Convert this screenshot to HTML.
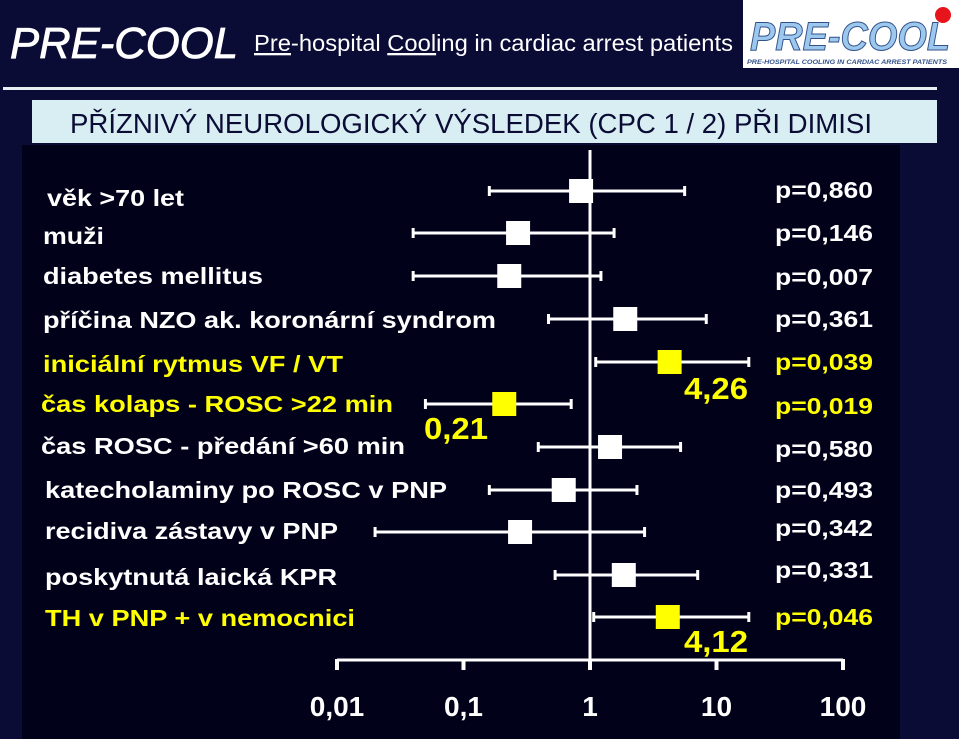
<!DOCTYPE html>
<html><head><meta charset="utf-8"><style>
html,body{margin:0;padding:0;background:#0b0c36;}
svg{display:block;font-family:"Liberation Sans",sans-serif;}
</style></head><body>
<svg width="959" height="739" viewBox="0 0 959 739">
<rect x="0" y="0" width="959" height="739" fill="#0b0c36"/>
<rect x="22" y="145" width="878" height="594" fill="#01011a"/>
<text x="10" y="58" font-size="44" font-style="italic" fill="#fff" stroke="#fff" stroke-width="0.8" textLength="228" lengthAdjust="spacingAndGlyphs">PRE-COOL</text>
<text x="254" y="51" font-size="23" fill="#fff" textLength="479" lengthAdjust="spacingAndGlyphs"><tspan text-decoration="underline">Pre</tspan>-hospital <tspan text-decoration="underline">Cool</tspan>ing in cardiac arrest patients</text>
<g>
<rect x="743" y="0" width="216" height="68" fill="#fff"/>
<text x="750" y="50" font-size="40" font-weight="bold" font-style="italic" fill="#9cc8ee" stroke="#33528a" stroke-width="1" textLength="200" lengthAdjust="spacingAndGlyphs">PRE-COOL</text>
<circle cx="943" cy="15" r="8" fill="#e8141b"/>
<text x="747" y="64" font-size="6" font-weight="bold" font-style="italic" fill="#33528a" textLength="200" lengthAdjust="spacingAndGlyphs">PRE-HOSPITAL COOLING IN CARDIAC ARREST PATIENTS</text>
</g>
<rect x="3" y="87" width="934" height="3" fill="#e8eef2"/>
<rect x="32" y="100" width="905" height="43" fill="#d8eef2"/>
<text x="70" y="133" font-size="28" fill="#0b0c36" textLength="802" lengthAdjust="spacingAndGlyphs">PŘÍZNIVÝ NEUROLOGICKÝ VÝSLEDEK (CPC 1 / 2) PŘI DIMISI</text>
<g id="plot"></g>
</svg>
<script>
const labels=["věk >70 let","muži","diabetes mellitus","příčina NZO ak. koronární syndrom","iniciální rytmus VF / VT","čas kolaps - ROSC >22 min","čas ROSC - předání >60 min","katecholaminy po ROSC v PNP","recidiva zástavy v PNP","poskytnutá laická KPR","TH v PNP + v nemocnici"];
const estimates=[0.85,0.27,0.23,1.9,4.26,0.21,1.44,0.62,0.28,1.85,4.12];
const lower=[0.16,0.04,0.04,0.47,1.11,0.05,0.39,0.16,0.02,0.53,1.07];
const upper=[5.6,1.55,1.22,8.3,18,0.71,5.2,2.35,2.7,7.1,18];
const pvalues=["p=0,860","p=0,146","p=0,007","p=0,361","p=0,039","p=0,019","p=0,580","p=0,493","p=0,342","p=0,331","p=0,046"];
const significant=[false,false,false,false,true,true,false,false,false,false,true];
const tickValues=[0.01,0.1,1,10,100];
const tickLabels=["0,01","0,1","1","10","100"];

const NS="http://www.w3.org/2000/svg";
const g=document.getElementById('plot');
const rowY=[191,233,276,319,362,404,447,490,532,575,617];
const labelY=[198,236,276,320,364,404,446,490,531,577,618];
const labelX=[47,43,43,43,43,41,41,45,45,45,45];
const labelW=[137,61,220,453,300,352,364,402,293,292,310];
const pY=[190,233,277,319,362,406,449,490,528,570,617];
function xs(v){return 590+126.5*Math.log10(v);}
function mk(tag,attrs,parent){const e=document.createElementNS(NS,tag);for(const k in attrs)e.setAttribute(k,attrs[k]);(parent||g).appendChild(e);return e;}
const ax=mk('line',{x1:xs(0.01),x2:xs(100),y1:660,y2:660,stroke:'#fff','stroke-width':3});


const ref=mk('line',{x1:xs(1),x2:xs(1),y1:150,y2:660,stroke:'#fff','stroke-width':3});


tickValues.forEach((v,i)=>{
  const t=mk('line',{x1:xs(v),x2:xs(v),y1:659,y2:670,stroke:'#fff','stroke-width':4});
  
  
  const l=mk('text',{x:xs(v),y:716,'font-size':28,'font-weight':'bold',fill:'#fff','text-anchor':'middle'});
  l.textContent=tickLabels[i];
  
  
});
labels.forEach((lab,i)=>{
  const col=significant[i]?'#ffff00':'#fff';
  const t=mk('text',{x:labelX[i],y:labelY[i]+8,'font-size':23,'font-weight':'bold',fill:col,textLength:labelW[i],lengthAdjust:'spacingAndGlyphs'});
  t.textContent=lab;
  
  
  const y=rowY[i];
  const ci=mk('line',{x1:xs(lower[i]),x2:xs(upper[i]),y1:y,y2:y,stroke:'#fff','stroke-width':3});
  
  
  [lower[i],upper[i]].forEach(v=>{
    const c=mk('line',{x1:xs(v),x2:xs(v),y1:y-5,y2:y+5,stroke:'#fff','stroke-width':3});
    
    
  });
  const s=mk('rect',{x:xs(estimates[i])-12,y:y-12,width:24,height:24,fill:col});
  
  
  const p=mk('text',{x:775,y:pY[i]+8,'font-size':23,'font-weight':'bold',fill:col,textLength:98,lengthAdjust:'spacingAndGlyphs'});
  p.textContent=pvalues[i];
  
  
});
const annot=[[4,684,399],[5,424,439],[10,684,652]];
annot.forEach(a=>{
  const t=mk('text',{x:a[1],y:a[2],'font-size':31,'font-weight':'bold',fill:'#ffff00',textLength:64,lengthAdjust:'spacingAndGlyphs'});
  t.textContent=estimates[a[0]].toFixed(2).replace('.',',');
  
  
});
</script>
</body></html>
